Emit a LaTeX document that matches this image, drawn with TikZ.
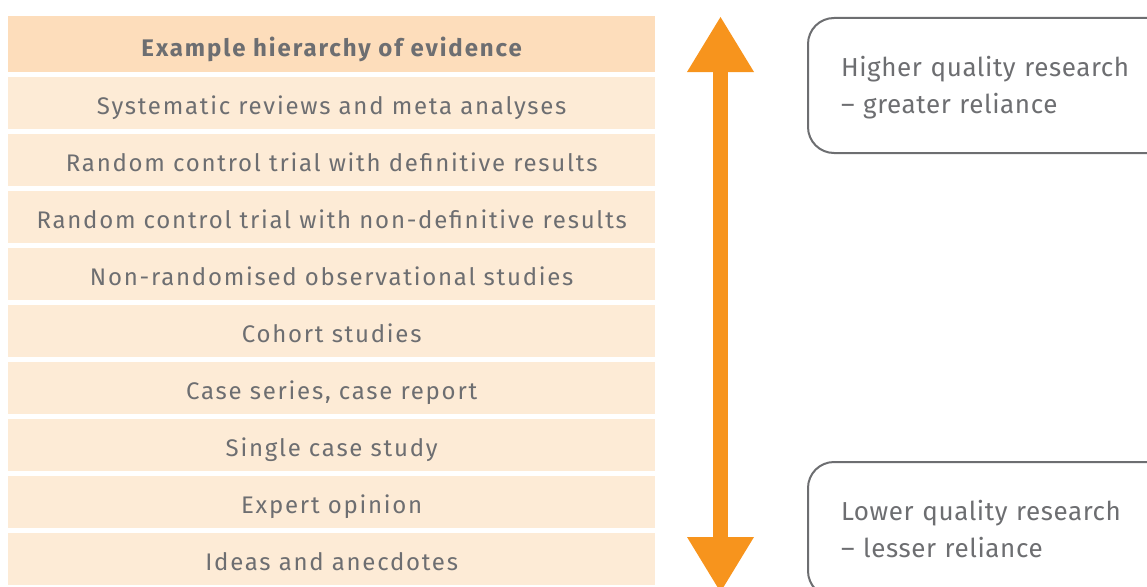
\documentclass[tikz,border=0pt]{standalone}
\usepackage{fontspec}
\setmainfont{Fira Sans}
\newfontfamily\rowfont[LetterSpace=7.3]{Fira Sans}
\newfontfamily\hdrfont[LetterSpace=8]{Fira Sans}
\newfontfamily\notefont[LetterSpace=2.3]{Fira Sans}
\usetikzlibrary{arrows.meta}
\definecolor{txt}{HTML}{6D6E71}
\definecolor{hdr}{HTML}{FDDDBB}
\definecolor{row}{HTML}{FDEBD6}
\definecolor{org}{HTML}{F7941D}
\tikzset{
  rowbox/.style={fill=row, draw=none, minimum width=647pt, minimum height=52pt, inner sep=0pt, text height=22pt, text depth=0pt, anchor=north west, text=txt, font=\rowfont\fontsize{24}{28}\selectfont},
  hdrbox/.style={rowbox, fill=hdr, minimum height=56pt, text height=24pt, font=\hdrfont\fontsize{24}{28}\selectfont\bfseries},
  notebox/.style={draw=txt, line width=2pt, rounded corners=26pt, fill=white, anchor=north west, minimum width=380pt, minimum height=135pt, text width=330pt, text height=24pt, text depth=43pt, align=left, inner xsep=33pt, inner ysep=0pt, text=txt, font=\notefont\fontsize{26}{37}\selectfont},
}
\begin{document}
\begin{tikzpicture}[x=1pt,y=-1pt]
\useasboundingbox (0,0) rectangle (1147,586);
\clip (0,0) rectangle (1147,586);
\node[hdrbox] (h) at (8,16) {Example hierarchy of evidence};
\node[rowbox] (r1) at (8,77) {Systematic reviews and meta analyses};
\node[rowbox] (r2) at (8,134) {Random control trial with definitive results};
\node[rowbox] (r3) at (8,191) {Random control trial with non-definitive results};
\node[rowbox] (r4) at (8,248) {Non-randomised observational studies};
\node[rowbox] (r5) at (8,305) {Cohort studies};
\node[rowbox] (r6) at (8,362) {Case series, case report};
\node[rowbox] (r7) at (8,419) {Single case study};
\node[rowbox] (r8) at (8,476) {Expert opinion};
\node[rowbox] (r9) at (8,533) {Ideas and anecdotes};
\coordinate (atop) at (720.5,17);
\coordinate (abot) at (720.5,592);
\draw[org, line width=15pt, {Triangle[length=55pt,width=67pt,line width=0pt]}-{Triangle[length=55pt,width=67pt,line width=0pt]}] (atop) -- (abot);
\node[notebox] (hi) at (807,17) {Higher quality research\\– greater reliance};
\node[notebox] (lo) at (807,461) {Lower quality research\\– lesser reliance};
\end{tikzpicture}
\end{document}
